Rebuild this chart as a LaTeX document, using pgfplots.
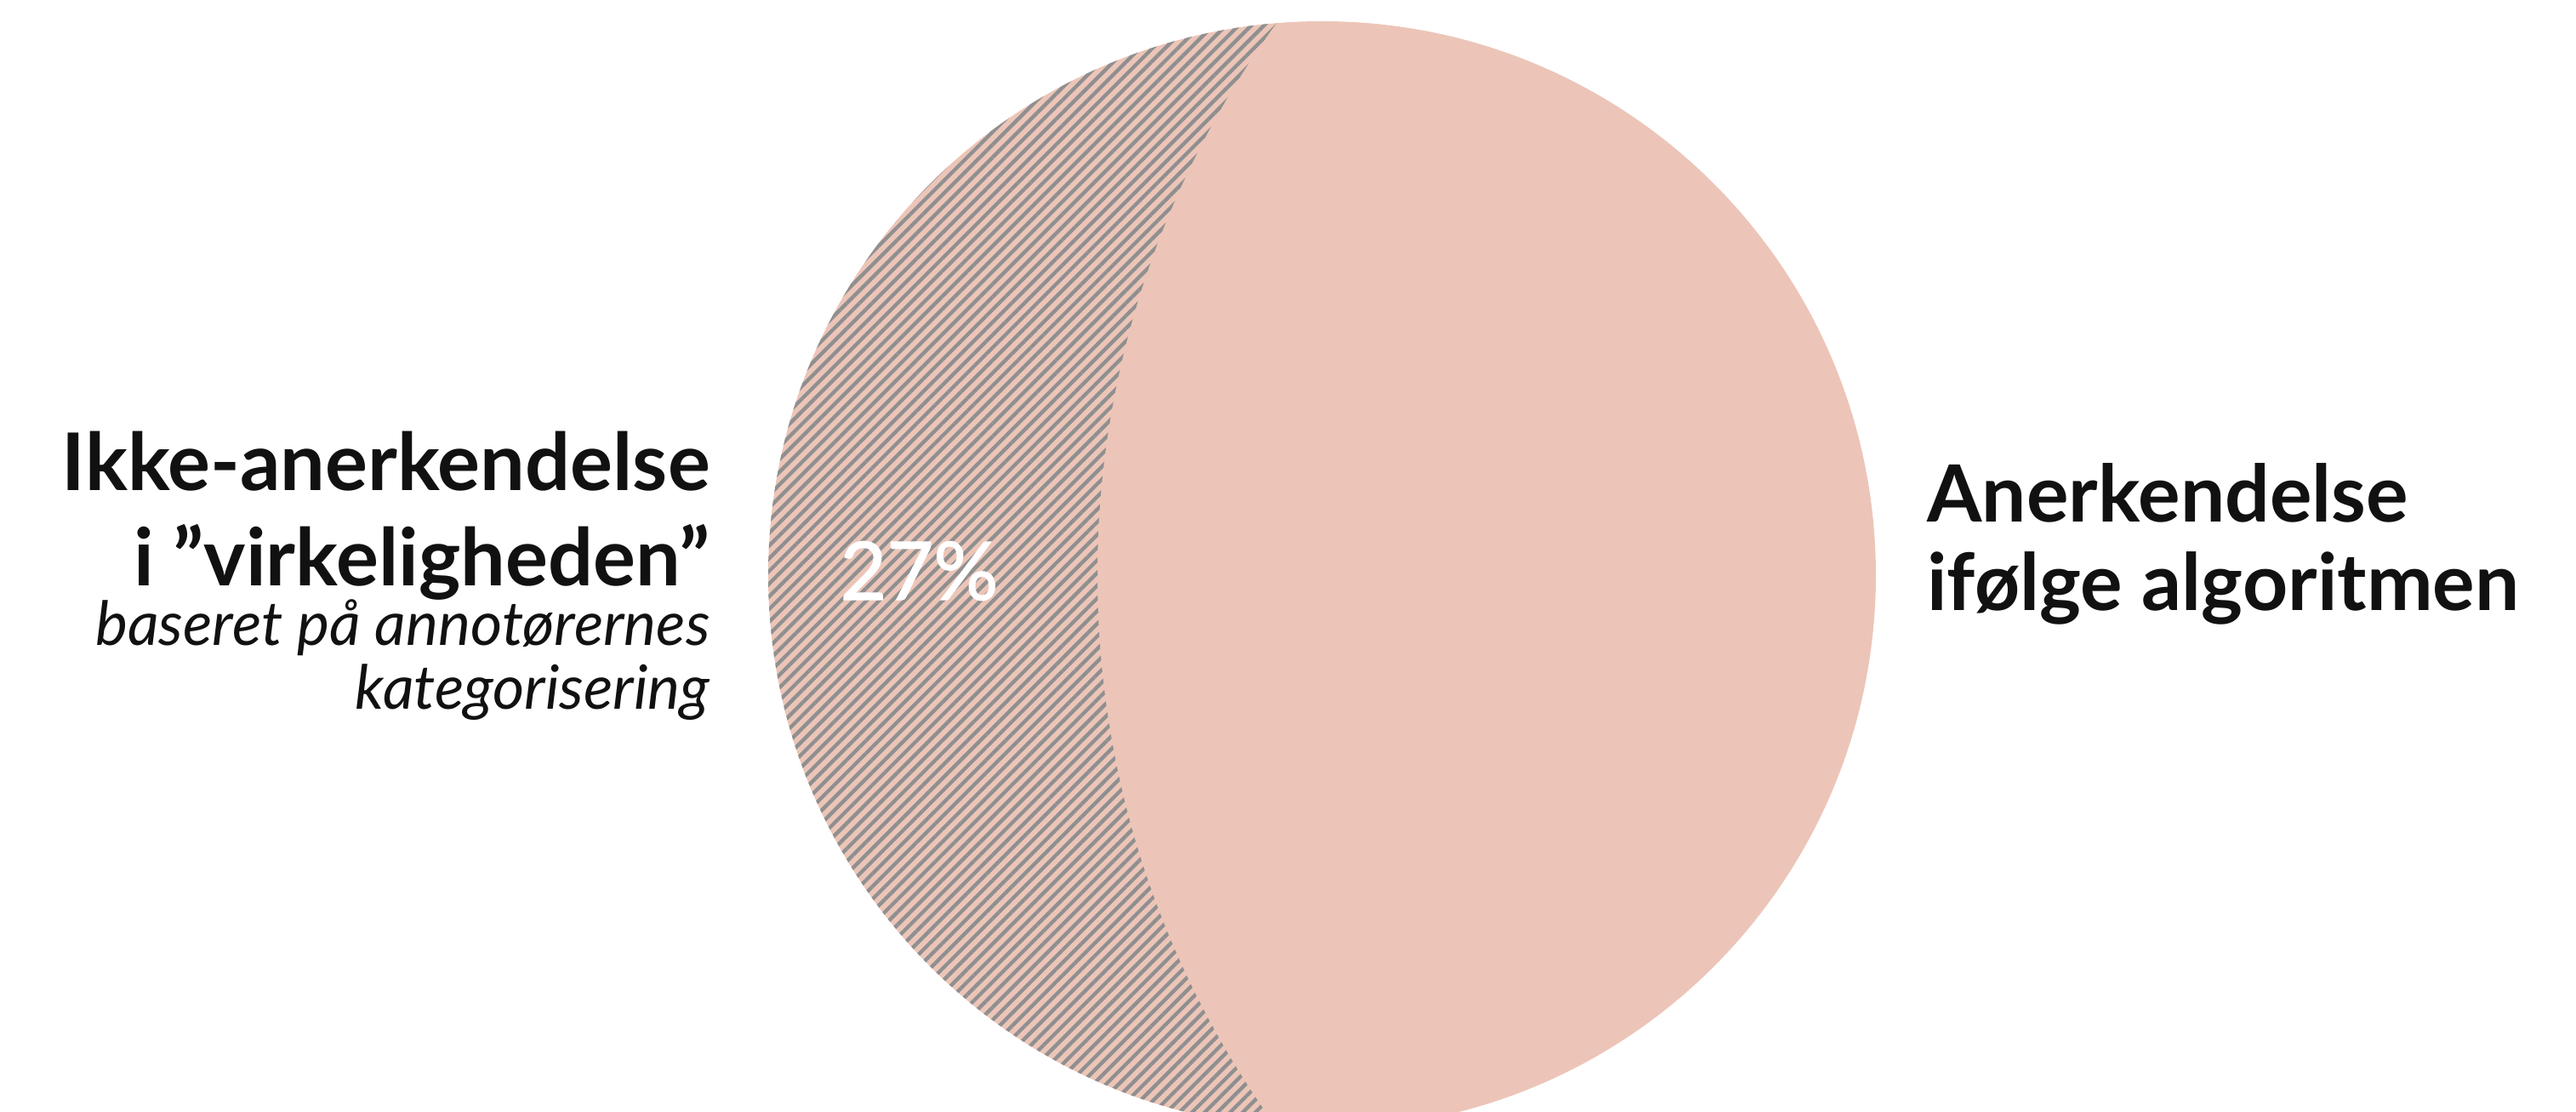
\documentclass[border=0pt]{standalone}
\usepackage{pgfplots}
\pgfplotsset{compat=1.18}
\usepackage{fontspec}
\setmainfont{Lato}
\newfontfamily\numfont{Lato}[FakeBold=1.3]
\usetikzlibrary{patterns.meta}
\definecolor{pinkfill}{RGB}{236,197,184}
\definecolor{hatchgray}{RGB}{143,143,143}
\definecolor{ink}{RGB}{17,17,17}
\begin{document}
\begin{tikzpicture}
\begin{axis}[
    width=15.14cm, height=6.535cm, scale only axis,
    xmin=0, xmax=3028, ymin=0, ymax=1307, y dir=reverse,
    hide axis, clip=true
]
% whole circle = 100 %
\fill[pinkfill] (axis cs:1554,676) circle[radius=651];
% 27 % share, hatched crescent on the left
\begin{scope}
\clip (axis cs:1554,676) circle[radius=651];
\fill[even odd rule, pattern={Lines[angle=45,distance=1.5pt,line width=0.62pt]}, pattern color=hatchgray]
    (axis cs:800,-500) rectangle (axis cs:2300,1600)
    (axis cs:2395,676) circle[radius=1105];
\end{scope}

\tikzset{lbl/.style={inner sep=0pt, text=ink}}
\node[lbl, anchor=base west, text=white, font=\numfont\fontsize{13.5}{16}\selectfont] at (axis cs:986,705) {27\%};

\node[lbl, anchor=base east, font=\bfseries\fontsize{13.3}{15}\selectfont] at (axis cs:836,577) {Ikke-anerkendelse};
\node[lbl, anchor=base east, font=\bfseries\fontsize{13.3}{15}\selectfont] at (axis cs:836,689) {i ”virkeligheden”};
\node[lbl, anchor=base east, font=\itshape\fontsize{10.2}{12}\selectfont] at (axis cs:836,759) {baseret på annotørernes};
\node[lbl, anchor=base east, font=\itshape\fontsize{10.2}{12}\selectfont] at (axis cs:836,834) {kategorisering};

\node[lbl, anchor=base west, font=\bfseries\fontsize{13.2}{15}\selectfont] at (axis cs:2264,614) {Anerkendelse};
\node[lbl, anchor=base west, font=\bfseries\fontsize{13.2}{15}\selectfont] at (axis cs:2264,718) {ifølge algoritmen};
\end{axis}
\pgfresetboundingbox
\useasboundingbox (current axis.south west) rectangle (current axis.north east);
\end{tikzpicture}
\end{document}
